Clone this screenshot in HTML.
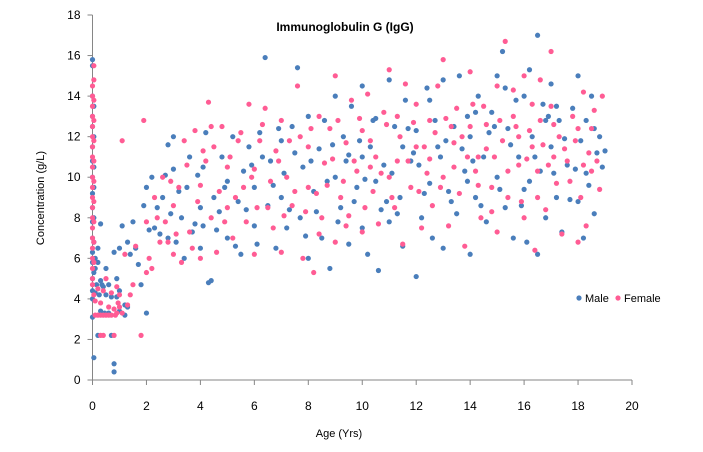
<!DOCTYPE html>
<html><head><meta charset="utf-8"><style>
body{margin:0;background:#fff;font-family:"Liberation Sans",sans-serif;}
svg text{font-family:"Liberation Sans",sans-serif;fill:#000;}
</style></head><body>
<svg id="chart" width="703" height="447" xmlns="http://www.w3.org/2000/svg">
<text x="345" y="31" font-size="12" font-weight="bold" text-anchor="middle">Immunoglobulin G (IgG)</text>
<text transform="translate(44,198) rotate(-90)" font-size="11" text-anchor="middle">Concentration (g/L)</text>
<text x="339" y="437" font-size="11" text-anchor="middle">Age (Yrs)</text>
<g id="axes"></g>
<g id="marks"></g>
<g>
<circle cx="579" cy="298" r="2.6" fill="#4A7EBB"/>
<text x="585" y="302" font-size="11">Male</text>
<circle cx="618" cy="298" r="2.6" fill="#FF5C94"/>
<text x="624" y="302" font-size="11">Female</text>
</g>
</svg>
<script>
const xTicks=[0,2,4,6,8,10,12,14,16,18,20];
const yTicks=[0,2,4,6,8,10,12,14,16,18];
const male=[[0,15.8],[0,15.5],[0,14],[0,13],[0,12.5],[0,11.5],[0,10.8],[0,10],[0,9.2],[0,8.5],[0,7.8],[0,7],[0,6.3],[0,5.8],[0,5],[0,4.4],[0,4],[0,3.1],[0.05,1.1],[0.1,6],[0.1,5.5],[0.15,4.7],[0.2,2.2],[0.3,7.7],[0.3,4.9],[0.4,4.6],[0.5,4.2],[0.5,5.5],[0.6,4.7],[0.7,2.2],[0.7,4.1],[0.8,0.8],[0.8,0.4],[0.8,6.3],[0.9,5],[1,6.5],[1,4.4],[1.1,7.6],[1.2,3.2],[1.2,3.7],[1.3,6.8],[1.5,7.8],[1.6,6.5],[1.8,4.7],[1.9,8.6],[2,9.5],[2,3.3],[2.1,7.4],[2.2,10],[2.4,8.5],[2.6,9],[2.8,11.6],[2.8,7],[3,12],[3,10.4],[3.1,6.8],[3.3,8],[3.4,6],[3.5,9.5],[3.6,11],[3.8,7.7],[4,8.5],[4,6.5],[4.1,10.5],[4.2,12.2],[4.3,4.8],[4.4,4.9],[4.5,9],[4.6,7.4],[4.8,11],[5,9.8],[5,7],[5.2,12],[5.4,8.8],[5.5,6.2],[5.6,10.3],[5.8,11.5],[6,7.6],[6,9.5],[6.2,12.2],[6.4,15.9],[6.5,8.6],[6.6,10.8],[6.8,6.5],[7,11.8],[7,9],[7.2,7.5],[7.4,12.5],[7.6,15.4],[7.7,8],[7.8,10.5],[8,13],[8,6],[8.2,9.3],[8.4,11.4],[8.5,7],[8.6,12.8],[8.8,5.5],[9,10],[9,14],[9.2,8.5],[9.3,12],[9.5,6.7],[9.6,13.5],[9.8,9.5],[10,11],[10,14.5],[10,7.5],[10.2,6.2],[10.4,12.8],[10.5,9.8],[10.6,5.4],[10.8,10.6],[11,14.8],[11,7.8],[11.2,12.5],[11.4,9],[11.5,6.6],[11.6,13.8],[11.8,10.8],[12,5.1],[12,12.3],[12.2,8],[12.4,14.4],[12.5,9.7],[12.6,7],[12.8,11.5],[13,14.8],[13,6.5],[13.2,9.3],[13.4,12.5],[13.5,8.2],[13.6,15],[13.8,10.3],[14,6.2],[14,12],[14.2,9],[14.3,14],[14.5,11],[14.6,7.8],[14.8,13.2],[15,10],[15,15],[15.2,16.2],[15.3,8.5],[15.4,12.4],[15.6,7],[15.8,11],[16,14],[16,9.4],[16.1,6.8],[16.2,15.3],[16.3,12],[16.5,17],[16.5,6.2],[16.6,10.3],[16.7,13.6],[16.8,8],[17,11.5],[17,14.6],[17.2,9],[17.3,12.8],[17.4,7.3],[17.6,10.6],[17.8,13.4],[18,15],[18,8.8],[18.1,11.8],[18.2,7],[18.3,12.8],[18.4,9.6],[18.5,14],[18.6,8.2],[18.7,11.2],[18.8,12],[18.9,10.5],[16.9,13],[14.9,12.5],[13.9,13],[12.9,11],[11.9,11.2],[10.9,8.8],[9.9,11.8],
[0.05,13.5],[0.05,12],[0.05,10.5],[0.05,9.5],[0.05,8],[0.05,6.8],[0.05,5.3],[0.1,4.3],[0.2,6.5],[0.2,5.8],[0.25,4.2],[0.3,3.4],[0.35,4.7],[0.45,3.3],[0.6,3.3],[0.9,4.1],[1,3.4],[1.3,3.6],[1.4,6.2],[1.7,5.7],[2.3,7.5],[2.5,7.2],[2.7,10.1],[2.9,8.2],[3.2,9.3],[3.7,7.3],[3.9,10.1],[4.1,7.6],[4.7,8.3],[4.9,9.5],[5.3,6.6],[5.7,8.4],[5.9,10.6],[6.1,6.7],[6.3,11],[6.7,9.6],[6.9,12.4],[7.1,10.2],[7.3,8.4],[7.5,11.2],[7.9,7.1],[8.1,10.8],[8.3,8.3],[8.7,9.8],[8.9,11.6],[9.1,7.8],[9.4,10.8],[9.7,8.8],[10.1,9.9],[10.3,11.5],[10.7,8.4],[11.1,10.2],[11.3,8.2],[11.7,12.4],[12.1,10.6],[12.3,9.2],[12.7,12.8],[13.1,11.8],[13.3,8.8],[13.7,11.4],[14.1,10.8],[14.4,8.6],[14.7,12.2],[15.1,9.4],[15.5,11.6],[15.7,13.8],[15.9,8.6],[16.4,11],[16.8,12.8],[17.1,10.2],[17.5,11.9],[17.7,8.9],[17.9,10.4],[18.3,10.2],[18.6,12.4],[19,11.3],[14.2,13.2],[15.3,14.4],[12.5,13.8],[11.5,11.5],[10.5,12.9],[9.5,11.1],[16.2,9.8],[17.2,13.5],[13.9,9.8]];
const female=[[0,14.5],[0,14],[0,13.5],[0,13],[0,12.5],[0,12],[0,11.5],[0,11],[0,10.5],[0,10],[0,9.5],[0,9],[0,8.5],[0,8],[0,7.5],[0,7],[0,6.5],[0,6],[0,5.5],[0,5],[0,4.7],[0.1,3.2],[0.2,3.2],[0.3,2.2],[0.3,3.8],[0.4,2.2],[0.4,4.4],[0.5,3.2],[0.5,5],[0.6,3.6],[0.7,3.2],[0.8,3.5],[0.8,2.2],[0.9,4.6],[0.9,3.3],[1,3.6],[1,4.2],[1.1,11.8],[1.2,6.2],[1.3,3.7],[1.5,4.7],[1.8,2.2],[1.9,12.8],[2,5.3],[2,7.8],[2.2,5.5],[2.4,8],[2.6,10],[2.8,6.8],[3,6.2],[3,8.6],[3.2,9.5],[3.3,5.8],[3.4,11.8],[3.6,7.3],[3.8,12.3],[4,6],[4,9.6],[4.2,10.8],[4.3,13.7],[4.4,8],[4.5,11.5],[4.6,6.3],[4.8,12.5],[5,8.5],[5,10.5],[5.2,7],[5.4,11.8],[5.6,9.5],[5.8,13.6],[6,6.2],[6,10.4],[6.2,11.8],[6.4,13.4],[6.5,8.5],[6.6,9.8],[6.8,11.3],[7,6.3],[7,12.8],[7.2,10],[7.4,8.6],[7.6,14.5],[7.8,6],[8,9.5],[8,11.5],[8.2,5.3],[8.4,13],[8.5,8],[8.6,10.7],[8.8,12.4],[9,6.8],[9,15],[9.2,9],[9.4,11.7],[9.5,8.1],[9.6,13.8],[9.8,10.3],[10,7.3],[10,12.3],[10.2,14.1],[10.4,9.3],[10.5,11],[10.6,7.7],[10.8,13.2],[11,10],[11,15.3],[11.2,8.5],[11.4,12],[11.5,6.7],[11.6,14.6],[11.8,9.5],[12,11.5],[12,13.6],[12.2,7.5],[12.4,10.2],[12.5,12.8],[12.6,8.6],[12.8,14.5],[13,10],[13,15.8],[13.2,7.6],[13.4,11.7],[13.5,13.4],[13.6,9.2],[13.8,6.6],[14,12.5],[14,15.2],[14.2,10.3],[14.4,8],[14.5,13.5],[14.6,11.4],[14.8,9.5],[15,14.5],[15,7.3],[15.2,11.8],[15.3,16.7],[15.4,9],[15.6,13],[15.8,10.6],[16,15],[16,8],[16.2,12.3],[16.4,6.4],[16.5,10.3],[16.6,14.8],[16.7,11.6],[16.8,8.4],[17,13.5],[17,16.2],[17.2,9.7],[17.3,12],[17.4,7.2],[17.6,10.8],[17.8,13],[18,6.8],[18,12.4],[18.1,9],[18.2,14.2],[18.3,7.6],[18.4,11.2],[18.5,10.3],[18.6,13.3],[18.8,9.4],[18.9,14],[17.1,11],[16.3,11.5],[15.7,12.5],[14.3,11],[13.3,12.5],[12.3,11.5],[11.3,10.8],[10.3,10.5],[9.3,9.8],[8.3,9.2],
[0.05,15.5],[0.05,14.8],[0.05,13.8],[0.05,12.8],[0.05,11.8],[0.05,10.8],[0.05,9.8],[0.05,8.8],[0.05,7.8],[0.05,6.8],[0.05,5.8],[0.05,4.2],[0.1,3.9],[0.2,4.5],[0.3,3.2],[0.4,3.2],[0.6,3.2],[0.7,4.3],[0.85,3.2],[0.95,3.8],[1.1,3.3],[1.4,4.2],[1.6,6.6],[2.1,6],[2.3,9],[2.5,6.8],[2.7,7.8],[2.9,9.8],[3.1,7.2],[3.5,10.6],[3.7,6.5],[3.9,8.8],[4.1,11.3],[4.4,12.5],[4.7,9.3],[4.9,7.8],[5.1,11],[5.3,9],[5.5,12.2],[5.7,7.8],[5.9,10],[6.1,8.5],[6.3,12.6],[6.7,7.5],[6.9,10.8],[7.1,8.1],[7.3,11.8],[7.5,9.3],[7.7,12],[7.9,8.3],[8.1,12.4],[8.4,7.2],[8.7,9.6],[8.9,10.9],[9.1,12.8],[9.4,7.6],[9.7,10.8],[9.9,12.9],[10.1,8.5],[10.3,11.8],[10.7,10.2],[10.9,12.6],[11.1,9],[11.3,13],[11.7,10.8],[11.9,12.7],[12.1,9.3],[12.5,10.9],[12.7,12.2],[12.9,9.5],[13.1,12.9],[13.4,10.5],[13.7,12],[13.9,11],[14.1,13.6],[14.3,9.6],[14.6,12.6],[14.9,11],[15.1,12.8],[15.4,10.3],[15.6,14.3],[15.8,12],[16.1,10.9],[16.3,13.6],[16.6,12.8],[16.9,10.6],[17.1,12.6],[17.5,11.4],[17.7,9.8],[17.9,11.8],[18.2,10.6],[18.5,12.4],[18.7,10.8],[16.5,9],[15.9,8.8],[14.8,8.3]];

const NS="http://www.w3.org/2000/svg";
const X0=92.5,X1=632,Y0=380,Y1=15;
function sx(v){return X0+(v-0)/(20-0)*(X1-X0);}
function sy(v){return Y0-(v-0)/(18-0)*(Y0-Y1);}
function mk(t,a){const e=document.createElementNS(NS,t);for(const k in a)e.setAttribute(k,a[k]);return e;}
const axes=document.getElementById('axes');
const yl=mk('line',{x1:X0,y1:Y1,x2:X0,y2:Y0,stroke:'#868686'});


axes.appendChild(yl);
const xl=mk('line',{x1:X0,y1:Y0,x2:X1,y2:Y0,stroke:'#868686'});


axes.appendChild(xl);
yTicks.forEach(v=>{
  const t=mk('line',{x1:X0-5,y1:sy(v),x2:X0,y2:sy(v),stroke:'#868686'});
  
  
  axes.appendChild(t);
  const l=mk('text',{x:X0-12,y:sy(v)+4,'font-size':'12','text-anchor':'end'});
  
  
  l.textContent=v;axes.appendChild(l);
});
xTicks.forEach(v=>{
  const t=mk('line',{x1:sx(v),y1:Y0,x2:sx(v),y2:Y0+5,stroke:'#868686'});
  
  
  axes.appendChild(t);
  const l=mk('text',{x:sx(v),y:Y0+30,'font-size':'12','text-anchor':'middle'});
  
  
  l.textContent=v;axes.appendChild(l);
});
const marks=document.getElementById('marks');
male.forEach(p=>{
  const c=mk('circle',{cx:sx(p[0]),cy:sy(p[1]),r:2.6,fill:'#4A7EBB'});
  
  
  marks.appendChild(c);
});
female.forEach(p=>{
  const c=mk('circle',{cx:sx(p[0]),cy:sy(p[1]),r:2.6,fill:'#FF5C94'});
  
  
  marks.appendChild(c);
});
</script>
</body></html>
